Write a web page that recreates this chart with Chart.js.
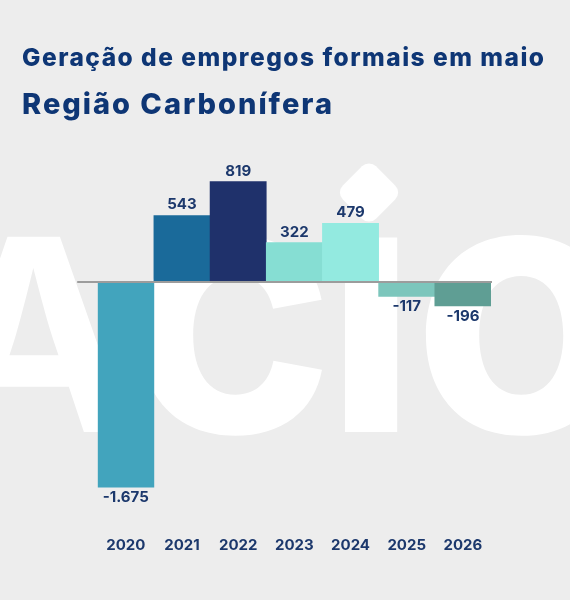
<!DOCTYPE html>
<html lang="pt-BR">
<head>
<meta charset="utf-8">
<script src="https://cdn.jsdelivr.net/npm/chart.js@4.4.1/dist/chart.umd.min.js"></script>
<style>
  html, body { margin: 0; padding: 0; background: #EDEDED; }
  #c { display: block; }
</style>
</head>
<body>
<canvas id="c" width="570" height="600"></canvas>
<script>
// ---- data ----
const categories = ['2020', '2021', '2022', '2023', '2024', '2025', '2026'];
const values = [-1675, 543, 819, 322, 479, -117, -196];
const titleText = 'Geração de empregos formais em maio';
const subtitleText = 'Região Carbonífera';
const watermarkText = ['A', 'c', 'ı', 'o'];

// ---- styles ----
const barColors = ['#42A4BD', '#1A6A9A', '#1F316B', '#86DED3', '#93EAE0', '#7CC6BC', '#5F9E94'];
const FAM = 'Inter, Roboto, "Noto Sans", sans-serif';
const NAVY = '#1C386C';
const TITLE = '#0E3675';

function fmt(v) {
  return (v < 0 ? '-' : '') + String(Math.abs(v)).replace(/\B(?=(\d{3})+(?!\d))/g, '.');
}

function spacedText(ctx, text, x, y, targetWidth) {
  ctx.letterSpacing = '0px';
  const w = ctx.measureText(text).width;
  const n = Array.from(text).length;
  const ls = (targetWidth - w) / (n - 1);
  ctx.letterSpacing = ls + 'px';
  ctx.fillText(text, x, y);
  ctx.letterSpacing = '0px';
}

const backdrop = {
  id: 'backdrop',
  beforeDraw(chart) {
    const ctx = chart.ctx;
    ctx.save();
    ctx.fillStyle = '#EDEDED';
    ctx.fillRect(0, 0, chart.width, chart.height);

    // titles
    ctx.fillStyle = TITLE;
    ctx.textAlign = 'left';
    ctx.textBaseline = 'alphabetic';
    ctx.font = '800 24.5px ' + FAM;
    spacedText(ctx, titleText, 22, 66, 522);
    ctx.font = '800 29px ' + FAM;
    spacedText(ctx, subtitleText, 22, 113.5, 310);

    // watermark
    ctx.fillStyle = '#FFFFFF';
    const base = 432, h = 196;
    ctx.font = '700 100px ' + FAM;
    let m = ctx.measureText('A');
    const sA = 100 * h / m.actualBoundingBoxAscent;
    ctx.font = '700 ' + sA + 'px ' + FAM;
    m = ctx.measureText(watermarkText[0]);
    ctx.fillText(watermarkText[0], 35 - (m.actualBoundingBoxRight - m.actualBoundingBoxLeft) / 2, base);
    ctx.font = '700 100px ' + FAM;
    m = ctx.measureText('x');
    const sx = 100 * h / m.actualBoundingBoxAscent;
    ctx.font = '700 ' + sx + 'px ' + FAM;
    const lefts = [137, 345, 423];
    for (let k = 1; k < 4; k++) {
      m = ctx.measureText(watermarkText[k]);
      ctx.fillText(watermarkText[k], lefts[k - 1] + m.actualBoundingBoxLeft, base);
    }
    ctx.translate(369, 192.5);
    ctx.rotate(Math.PI / 4);
    ctx.beginPath();
    ctx.roundRect(-23.5, -23.5, 47, 47, 10);
    ctx.fill();
    ctx.restore();
  },
  afterDatasetsDraw(chart) {
    const ctx = chart.ctx;
    const y0 = chart.scales.y.getPixelForValue(0);
    const ca = chart.chartArea;
    ctx.save();
    ctx.strokeStyle = '#9C9C9C';
    ctx.lineWidth = 2;
    ctx.beginPath();
    ctx.moveTo(ca.left - 20.5, y0);
    ctx.lineTo(ca.right + 1, y0);
    ctx.stroke();
    ctx.font = '700 15px ' + FAM;
    ctx.fillStyle = NAVY;
    ctx.textAlign = 'center';
    ctx.textBaseline = 'middle';
    const meta = chart.getDatasetMeta(0);
    meta.data.forEach((bar, i) => {
      const v = values[i];
      const y = v >= 0 ? bar.y - 10.5 : bar.y + 10;
      ctx.fillText(fmt(v), bar.x, y);
    });
    ctx.restore();
  }
};

new Chart(document.getElementById('c'), {
  type: 'bar',
  data: {
    labels: categories,
    datasets: [{
      data: values,
      backgroundColor: barColors,
      borderWidth: 0,
      categoryPercentage: 1,
      barPercentage: 1
    }]
  },
  options: {
    responsive: false,
    animation: false,
    events: [],
    layout: { padding: { left: 97.7, right: 79, top: 171.75, bottom: 0.25 } },
    plugins: {
      legend: { display: false },
      tooltip: { enabled: false },
      title: { display: false },
      subtitle: { display: false }
    },
    scales: {
      x: {
        grid: { display: false, drawTicks: false },
        border: { display: false },
        ticks: { padding: 45.75, color: NAVY, font: { family: FAM, size: 15, weight: 'bold', lineHeight: 1.2 } }
      },
      y: {
        display: false,
        min: -1700, max: 900
      }
    }
  },
  plugins: [backdrop]
});
</script>
</body>
</html>
